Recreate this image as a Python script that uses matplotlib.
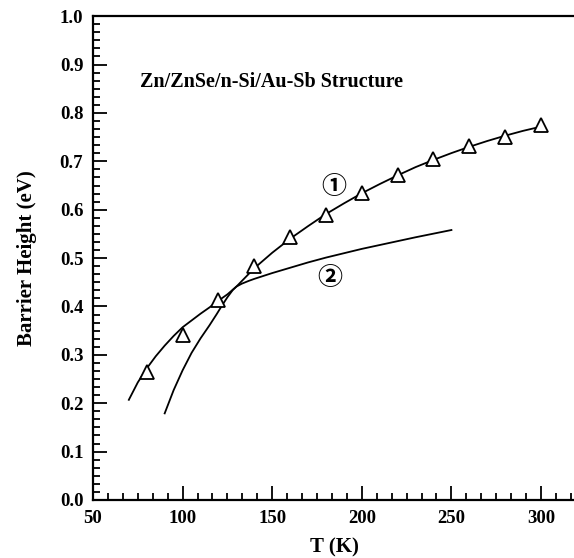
import matplotlib
matplotlib.use("Agg")
import matplotlib.pyplot as plt
from matplotlib.ticker import MultipleLocator, FormatStrFormatter

plt.rcParams['font.family'] = ['Liberation Serif', 'DejaVu Serif']
plt.rcParams['font.weight'] = 'bold'

# measured barrier heights
temp_meas = [80, 100, 120, 140, 160, 180, 200, 220, 240, 260, 280, 300]
phi_meas = [0.264, 0.341, 0.414, 0.484, 0.543, 0.590, 0.634, 0.672, 0.704, 0.731, 0.751, 0.775]

# curve 1
temp_fit1 = [70, 75, 80, 85, 90, 95, 100, 105, 110, 115, 120, 125, 130, 135, 140, 150,
             160, 170, 180, 190, 200, 210, 220, 230, 240, 250, 260, 270, 280, 290, 298]
phi_fit1 = [0.207, 0.243, 0.272, 0.297, 0.319, 0.339, 0.357, 0.371, 0.385, 0.398, 0.412,
            0.425, 0.441, 0.460, 0.479, 0.511, 0.540, 0.566, 0.591, 0.613, 0.634, 0.653,
            0.671, 0.688, 0.703, 0.717, 0.730, 0.742, 0.753, 0.763, 0.770]

# curve 2
temp_fit2 = [90, 95, 100, 105, 110, 115, 119, 122, 125, 128, 130, 133, 137, 140, 150,
             160, 170, 180, 190, 200, 215, 230, 250]
phi_fit2 = [0.179, 0.227, 0.268, 0.304, 0.334, 0.361, 0.384, 0.402, 0.419, 0.434, 0.441,
            0.447, 0.453, 0.457, 0.469, 0.480, 0.491, 0.501, 0.510, 0.519, 0.531, 0.543,
            0.558]

fig = plt.figure(figsize=(5.74, 5.58), dpi=100)
ax = fig.add_axes([0.162, 0.104, 0.843, 0.867])

ax.plot(temp_fit1, phi_fit1, color='black', lw=1.3)
ax.plot(temp_fit2, phi_fit2, color='black', lw=1.3)
ax.plot(temp_meas, phi_meas, linestyle='none', marker='^', markersize=10.5,
        markerfacecolor='white', markeredgecolor='black', markeredgewidth=1.3)

ax.set_xlim(50, 320)
ax.set_ylim(0.0, 1.0)
ax.xaxis.set_major_locator(MultipleLocator(50))
ax.xaxis.set_minor_locator(MultipleLocator(50 / 6))
ax.yaxis.set_major_locator(MultipleLocator(0.1))
ax.yaxis.set_minor_locator(MultipleLocator(0.1 / 6))
ax.xaxis.set_major_formatter(FormatStrFormatter('%d'))
ax.yaxis.set_major_formatter(FormatStrFormatter('%.1f'))

ax.tick_params(which='both', direction='in', top=False, right=False,
               labelsize=13.5, width=1.3)
ax.tick_params(which='major', length=10, pad=7)
ax.tick_params(which='minor', length=5)

for side in ['left', 'bottom', 'top']:
    ax.spines[side].set_linewidth(1.6)
ax.spines['right'].set_visible(False)

ax.set_xlabel('T (K)', fontsize=15, fontweight='bold', labelpad=8)
ax.set_ylabel('Barrier Height (eV)', fontsize=15, fontweight='bold', labelpad=16)

ax.text(76, 0.864, 'Zn/ZnSe/n-Si/Au-Sb Structure', fontsize=14.5, fontweight='bold',
        va='center', ha='left')
ax.text(184.3, 0.647, '\u2460', fontsize=18, ha='center', va='center',
        family=['Noto Sans CJK JP', 'DejaVu Sans'], fontweight='bold')
ax.text(182, 0.458, '\u2461', fontsize=18, ha='center', va='center',
        family=['Noto Sans CJK JP', 'DejaVu Sans'], fontweight='bold')

fig.savefig('out.png', dpi=100)
